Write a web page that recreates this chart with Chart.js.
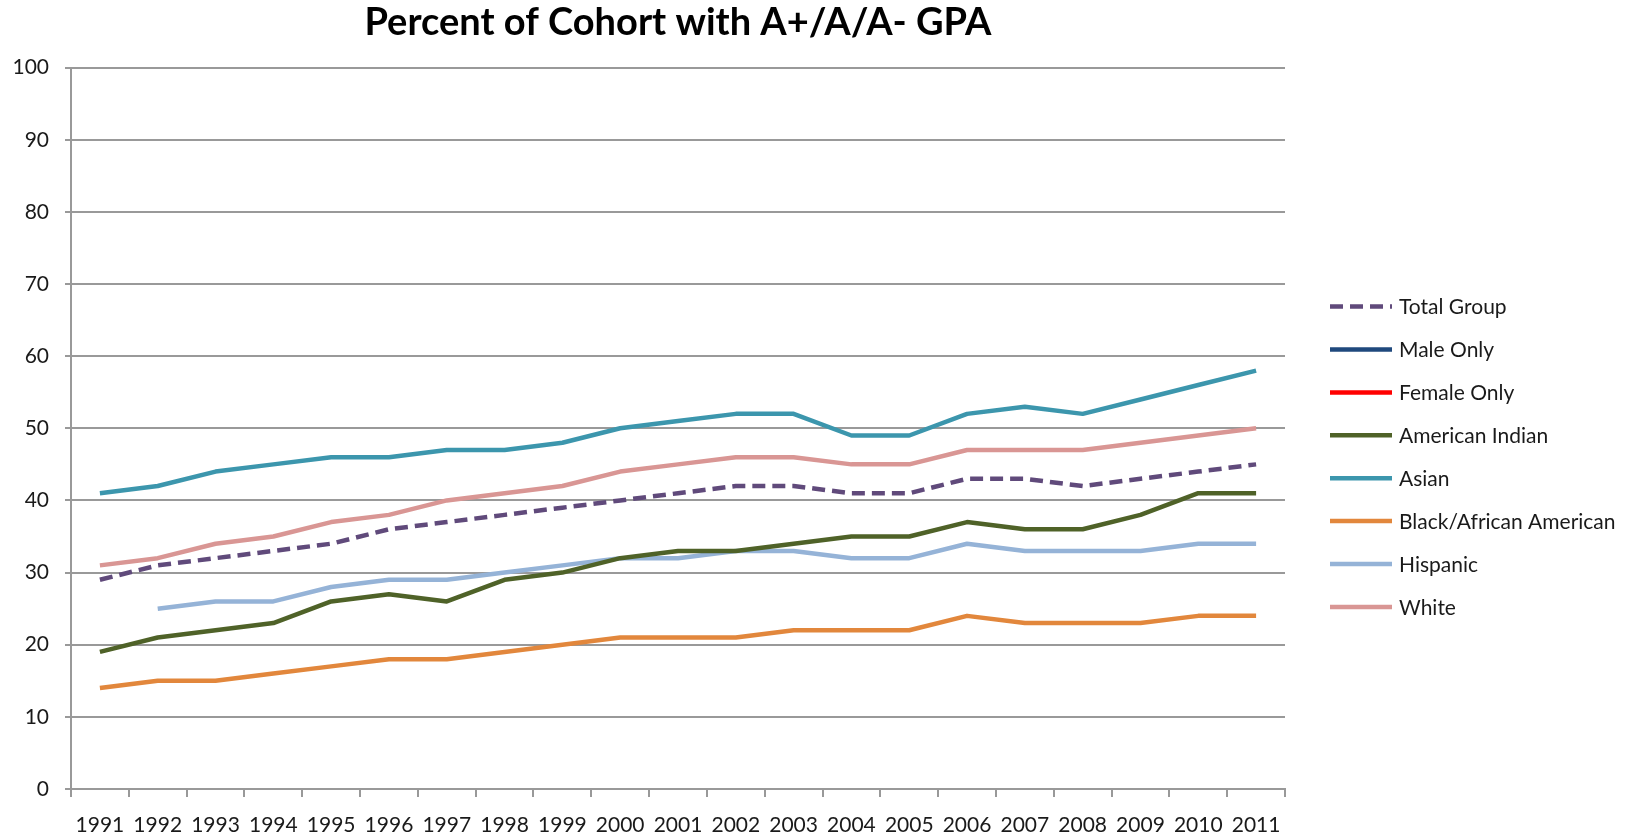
<!DOCTYPE html>
<html>
<head>
<meta charset="utf-8">
<script src="https://cdn.jsdelivr.net/npm/chart.js@4/dist/chart.umd.min.js"></script>
<style>
  html, body { margin: 0; padding: 0; background: #fff; }
  #wrap { width: 1634px; height: 837px; }
</style>
</head>
<body>
<div id="wrap"><canvas id="gpaChart"></canvas></div>
<script>
const years = ['1991','1992','1993','1994','1995','1996','1997','1998','1999','2000','2001',
               '2002','2003','2004','2005','2006','2007','2008','2009','2010','2011']

const totalGroup      = [29,31,32,33,34,36,37,38,39,40,41,42,42,41,41,43,43,42,43,44,45]
const maleOnly        = []
const femaleOnly      = []
const americanIndian  = [19,21,22,23,26,27,26,29,30,32,33,33,34,35,35,37,36,36,38,41,41]
const asian           = [41,42,44,45,46,46,47,47,48,50,51,52,52,49,49,52,53,52,54,56,58]
const blackAfrAm      = [14,15,15,16,17,18,18,19,20,21,21,21,22,22,22,24,23,23,23,24,24]
const hispanic        = [null,25,26,26,28,29,29,30,31,32,32,33,33,32,32,34,33,33,33,34,34]
const white           = [31,32,34,35,37,38,40,41,42,44,45,46,46,45,45,47,47,47,48,49,50]

const yTicks = [0,10,20,30,40,50,60,70,80,90,100]

function line(label, data, color, dash) {
    return {
        label: label,
        data: data,
        borderColor: color,
        backgroundColor: color,
        borderWidth: 4.5,
        borderDash: dash || [],
        borderCapStyle: 'butt',
        borderJoinStyle: 'round',
        pointRadius: 0,
        pointHoverRadius: 0,
        tension: 0,
        fill: false
    }
}

const font = 'Lato, "DejaVu Sans", sans-serif'
const gridColor = '#999999'

// the built-in legend won't dash a line sample, so draw the legend by hand
const sideLegend = {
    id: 'sideLegend',
    afterDraw(chart, args, opts) {
        const {ctx, chartArea} = chart
        const x0 = chartArea.right + opts.gap
        ctx.save()
        ctx.font = opts.fontSize + 'px ' + font
        ctx.textBaseline = 'middle'
        ctx.textAlign = 'left'
        chart.data.datasets.forEach((ds, i) => {
            const y = chartArea.top + opts.top + i * opts.step
            ctx.beginPath()
            ctx.setLineDash(ds.borderDash || [])
            ctx.lineWidth = ds.borderWidth
            ctx.strokeStyle = ds.borderColor
            ctx.lineCap = 'butt'
            ctx.moveTo(x0, y)
            ctx.lineTo(x0 + opts.lineLength, y)
            ctx.stroke()
            ctx.setLineDash([])
            ctx.fillStyle = '#1a1a1a'
            ctx.fillText(ds.label, x0 + opts.lineLength + 7, y + 1)
        })
        ctx.restore()
    }
}

new Chart(document.getElementById('gpaChart'), {
    type: 'line',
    data: {
        labels: years,
        datasets: [
            line('Total Group', totalGroup, '#604A7B', [13, 7]),
            line('Male Only', maleOnly, '#1F497D'),
            line('Female Only', femaleOnly, '#FF0000'),
            line('American Indian', americanIndian, '#4F6228'),
            line('Asian', asian, '#3C96AD'),
            line('Black/African American', blackAfrAm, '#E2873C'),
            line('Hispanic', hispanic, '#95B3D7'),
            line('White', white, '#D99694')
        ]
    },
    plugins: [sideLegend],
    options: {
        responsive: true,
        maintainAspectRatio: false,
        animation: false,
        layout: { padding: { left: 0, right: 349, top: 0, bottom: 0 } },
        plugins: {
            title: {
                display: true,
                text: 'Percent of Cohort with A+/A/A- GPA',
                fullSize: false,
                color: '#000',
                font: { family: font, size: 38, weight: 'bold' },
                padding: { top: 0, bottom: 22 }
            },
            legend: { display: false },
            sideLegend: { gap: 45, lineLength: 62, top: 239, step: 42.9, fontSize: 21 },
            tooltip: { enabled: false }
        },
        scales: {
            x: {
                offset: true,
                afterFit: axis => { axis.height = 48 },
                grid: {
                    offset: true,
                    drawOnChartArea: false,
                    drawTicks: true,
                    tickLength: 8,
                    color: gridColor,
                    lineWidth: 2
                },
                border: { color: gridColor, width: 2 },
                ticks: {
                    color: '#1a1a1a',
                    maxRotation: 0,
                    autoSkip: false,
                    padding: 16,
                    font: { family: font, size: 21 }
                }
            },
            y: {
                min: 0,
                max: 100,
                afterBuildTicks: axis => { axis.ticks = yTicks.map(v => ({ value: v })) },
                afterFit: axis => { axis.width = 71 },
                grid: {
                    color: gridColor,
                    lineWidth: 2,
                    tickLength: 6
                },
                border: { color: gridColor, width: 2 },
                ticks: {
                    color: '#1a1a1a',
                    padding: 16,
                    font: { family: font, size: 21 }
                }
            }
        }
    }
})
</script>
</body>
</html>
